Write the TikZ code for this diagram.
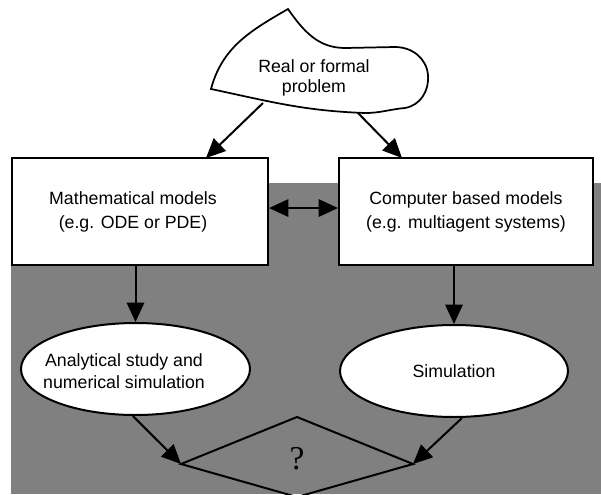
\documentclass[tikz,border=0pt]{standalone}
\usepackage{fontspec}
\setmainfont{Liberation Sans}
\newfontfamily\qfont{Liberation Serif}
\usetikzlibrary{arrows.meta,shapes.geometric}

\begin{document}
\begin{tikzpicture}[
            x = 0.75pt, y = -0.75pt, % one unit is one pixel, y going down
            > = {Triangle[length=14.5pt,width=13pt]}, % arrow head style
            line width = 1.5pt, % line style
            font = \fontsize{13.3}{18}\selectfont,
            model/.style = {draw, fill=white, inner sep=0pt, align=center,
                            minimum height=80.25pt},
            result/.style = {draw, fill=white, ellipse, inner sep=0pt,
                             minimum width=171.75pt, minimum height=69pt}
        ]

    \useasboundingbox (0,0) rectangle (601,494);
    \fill[gray] (11,183) rectangle (601,494);

    % the problem cloud
    \draw[line width=1.3pt, fill=white] (211,89) to[out=75,in=210] (288,9)
        to[out=-55,in=180] (345,48) -- (395,47) to[out=0,in=95] (428,75)
        to[out=-85,in=10] (405,108) to[out=185,in=0] (365,113)
        to[out=178,in=-12] (211,89) -- cycle;
    \node[align=center, font=\fontsize{13.3}{15}\selectfont] (problem) at (314,78) {Real or formal\\problem};
    \coordinate (problem-l) at (263,103);
    \coordinate (problem-r) at (358,113);

    % the two kinds of models
    \node[model, minimum width=192pt] (mathmodel) at (140,211.5) {};
    \node[align=center] (mathmodel-text) at (133,211.5) {Mathematical models\\ (e.g. ODE or PDE)};
    \node[model, minimum width=190.5pt] (compmodel) at (466,211.5) {Computer based models\\(e.g. multiagent systems)};
    \coordinate (mathmodel-in) at (206,158);
    \coordinate (compmodel-in) at (402,158);

    % what is done with them
    \node[result] (analysis) at (135.5,369) {};
    \node[align=center, font=\fontsize{13.3}{16.5}\selectfont] (analysis-text) at (124,371) {Analytical study and\\numerical simulation};
    \node[result, minimum width=171pt] (simulation) at (454,371) {Simulation};

    % the comparison
    \coordinate (cmp-t) at (297,417);
    \coordinate (cmp-l) at (181,464);
    \coordinate (cmp-r) at (413,464);
    \coordinate (cmp-b) at (297,497);
    \draw (cmp-t) -- (cmp-r) -- (cmp-b) -- (cmp-l) -- cycle;
    \node[font=\qfont\fontsize{25}{27}\selectfont] (question) at (297,459) {?};

    \draw[->] (problem-l) -- (mathmodel-in);
    \draw[->] (problem-r) -- (compmodel-in);
    \draw[<->] ([yshift=2.6pt]mathmodel.east) -- ([yshift=2.6pt]compmodel.west);
    \draw[->] (analysis.north |- mathmodel.south) -- (analysis.north);
    \draw[->] (simulation.north |- compmodel.south) -- (simulation.north);
    \draw[->] ([xshift=-2pt]analysis.south) -- (cmp-l);
    \draw[->] ([xshift=6pt]simulation.south) -- (cmp-r);

\end{tikzpicture}
\end{document}
